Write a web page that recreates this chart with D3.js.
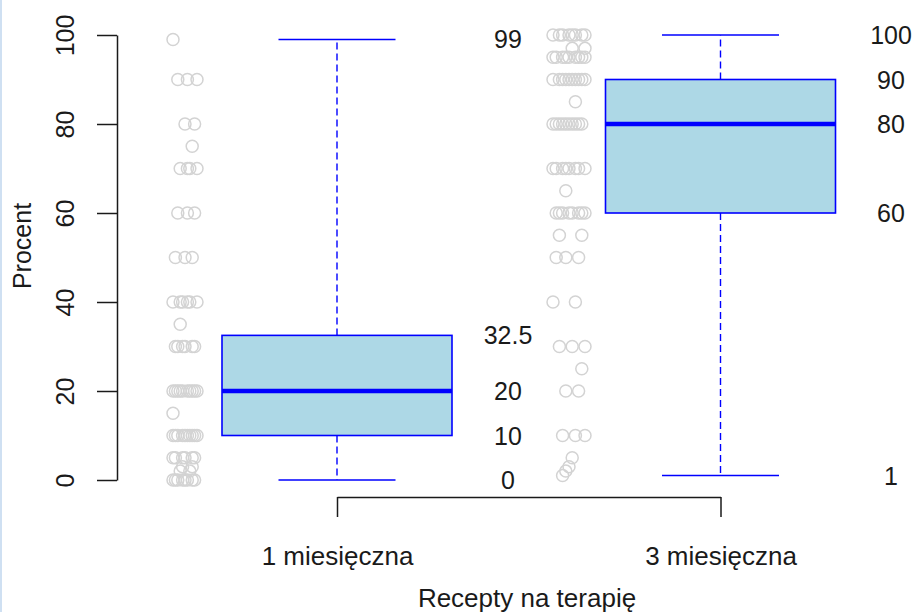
<!DOCTYPE html>
<html>
<head>
<meta charset="utf-8">
<script src="https://cdn.jsdelivr.net/npm/d3@7"></script>
<style>
  html, body { margin: 0; padding: 0; background: #fff; }
  svg { display: block; }
  text { font-family: "Liberation Sans", Arial, sans-serif; fill: #1a1a1a; }
</style>
</head>
<body>
<svg id="chart" width="914" height="612"></svg>
<script>
// Groups on the x axis
const categories = ["1 miesięczna", "3 miesięczna"];

// Five-number summaries: lower whisker, Q1, median, Q3, upper whisker
const lowerWhisker = [0, 1];
const quartile1    = [10, 60];
const medians      = [20, 80];
const quartile3    = [32.5, 90];
const upperWhisker = [99, 100];

// Individual responses (value, count) for each group
const monthlyValues = [99, 90, 80, 75, 70, 60, 50, 40, 35, 30, 20, 15, 10, 5, 3, 2, 0];
const monthlyCounts = [1, 3, 2, 1, 4, 3, 3, 6, 1, 6, 10, 1, 10, 6, 2, 2, 8];
const quarterlyValues = [100, 97, 95, 90, 85, 80, 70, 65, 60, 55, 50, 40, 30, 25, 20, 10, 5, 3, 2, 1];
const quarterlyCounts = [8, 2, 9, 10, 1, 10, 8, 1, 8, 2, 3, 2, 3, 1, 2, 3, 1, 1, 1, 1];

const yTicks = [0, 20, 40, 60, 80, 100];

const FS = "25px";
const FS_X = "26px";
const svg = d3.select("#chart");
const W = 914, H = 612;

// thin light frame line on the left edge
svg.append("rect").attr("x", 0).attr("y", 0).attr("width", 2).attr("height", H)
  .attr("fill", "#cfe0f2");

const y = d3.scaleLinear().domain([0, 100]).range([480, 35]);
const x = d3.scaleLinear().domain([1, 2]).range([337, 720.5]);
const boxHalf = 115;
const capHalf = 58.5;

// y axis
const yAxis = svg.append("g").attr("transform", "translate(117,0)")
  .call(d3.axisLeft(y).tickValues(yTicks).tickSize(20).tickSizeOuter(0).tickFormat(d3.format("d")));
yAxis.select(".domain").attr("stroke", "#1a1a1a").attr("stroke-width", 1.5);
yAxis.selectAll(".tick line").attr("stroke", "#1a1a1a").attr("stroke-width", 1.5);
yAxis.selectAll(".tick text")
  .attr("x", 0).attr("y", 0).attr("dy", "0.36em")
  .attr("text-anchor", "middle")
  .attr("transform", "translate(-52,0) rotate(-90)")
  .style("font-size", FS)
  .style("font-family", "'Liberation Sans', Arial, sans-serif")
  .attr("fill", "#1a1a1a");

svg.append("text").attr("transform", "translate(22,246) rotate(-90)")
  .attr("dy", "0.36em")
  .attr("text-anchor", "middle").style("font-size", FS).text("Procent");

// x axis (spans the two group positions)
const xAxis = svg.append("g").attr("transform", "translate(0,497)")
  .call(d3.axisBottom(x).tickValues([1, 2]).tickSize(20).tickSizeOuter(0).tickFormat(d => categories[d - 1]));
xAxis.select(".domain").attr("stroke", "#1a1a1a").attr("stroke-width", 1.5);
xAxis.selectAll(".tick line").attr("stroke", "#1a1a1a").attr("stroke-width", 1.5);
xAxis.selectAll(".tick text").attr("y", 59).attr("dy", "0.36em")
  .style("font-size", FS_X)
  .style("font-family", "'Liberation Sans', Arial, sans-serif")
  .attr("fill", "#1a1a1a");

svg.append("text").attr("x", 527).attr("y", 598).attr("dy", "0.36em")
  .attr("text-anchor", "middle").style("font-size", FS_X).text("Recepty na terapię");

// boxes
const boxes = categories.map((c, i) => ({
  pos: i + 1, lo: lowerWhisker[i], q1: quartile1[i], med: medians[i], q3: quartile3[i], hi: upperWhisker[i]
}));
const g = svg.append("g");
boxes.forEach(b => {
  const cx = x(b.pos);
  // whiskers
  g.append("line").attr("x1", cx).attr("x2", cx).attr("y1", y(b.q3)).attr("y2", y(b.hi))
    .attr("stroke", "#0000ff").attr("stroke-width", 1.4).attr("stroke-dasharray", "7,4");
  g.append("line").attr("x1", cx).attr("x2", cx).attr("y1", y(b.q1)).attr("y2", y(b.lo))
    .attr("stroke", "#0000ff").attr("stroke-width", 1.4).attr("stroke-dasharray", "7,4");
  // caps
  [b.hi, b.lo].forEach(v => g.append("line")
    .attr("x1", cx - capHalf).attr("x2", cx + capHalf).attr("y1", y(v)).attr("y2", y(v))
    .attr("stroke", "#0000ff").attr("stroke-width", 1.6));
  // box
  g.append("rect").attr("x", cx - boxHalf).attr("y", y(b.q3))
    .attr("width", 2 * boxHalf).attr("height", y(b.q1) - y(b.q3))
    .attr("fill", "#add8e6").attr("stroke", "#0000ff").attr("stroke-width", 1.6);
  // median
  g.append("line").attr("x1", cx - boxHalf).attr("x2", cx + boxHalf)
    .attr("y1", y(b.med)).attr("y2", y(b.med))
    .attr("stroke", "#0000ff").attr("stroke-width", 4.5);
});

// jittered raw responses (deterministic spread)
function spread(k) { return (((k * 7) % 11) - 5) / 5; }
function drawPoints(values, counts, cx, half) {
  const pts = [];
  values.forEach((v, i) => {
    for (let k = 0; k < counts[i]; k++) pts.push({ v, k: k + i * 3 });
  });
  svg.append("g").selectAll("circle").data(pts).join("circle")
    .attr("cx", d => cx + spread(d.k) * half)
    .attr("cy", d => y(d.v))
    .attr("r", 6)
    .attr("fill", "none")
    .attr("stroke", "#d3d3d3")
    .attr("stroke-width", 1.5);
}
drawPoints(monthlyValues, monthlyCounts, 185, 12);
drawPoints(quarterlyValues, quarterlyCounts, 569, 16);

// value labels next to each box
const labelX = [508, 891];
boxes.forEach((b, i) => {
  [b.hi, b.q3, b.med, b.q1, b.lo].forEach(v => {
    svg.append("text").attr("x", labelX[i]).attr("y", y(v)).attr("dy", "0.36em")
      .attr("text-anchor", "middle").style("font-size", FS).text(d3.format("~g")(v));
  });
});
</script>
</body>
</html>
